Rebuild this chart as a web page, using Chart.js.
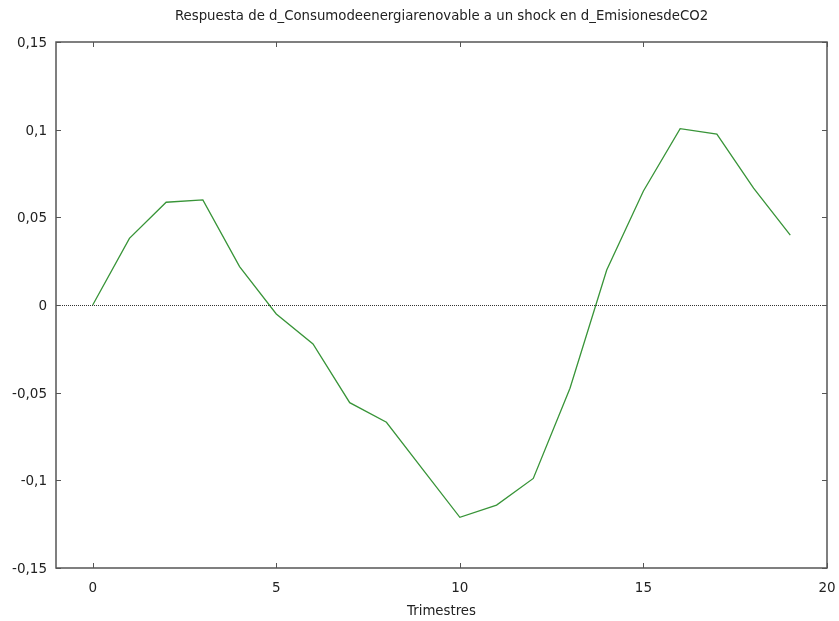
<!DOCTYPE html>
<html>
<head>
<meta charset="utf-8">
<script src="https://cdn.jsdelivr.net/npm/chart.js@4/dist/chart.umd.min.js"></script>
<style>
  html, body { margin: 0; padding: 0; background: #fff; }
  #wrap { width: 839px; height: 621px; }
</style>
</head>
<body>
<div id="wrap"><canvas id="myChart" width="839" height="621"></canvas></div>
<script>
const chartTitle = "Respuesta de d_Consumodeenergiarenovable a un shock en d_EmisionesdeCO2";
const periods = [0, 1, 2, 3, 4, 5, 6, 7, 8, 9, 10, 11, 12, 13, 14, 15, 16, 17, 18, 19];
const response = [0, 0.0380, 0.0586, 0.0599, 0.0219, -0.0051, -0.0222, -0.0557, -0.0669, -0.0940,
    -0.1211, -0.1141, -0.0989, -0.0475, 0.0200, 0.0650, 0.1006, 0.0975, 0.0666, 0.0399];
const xTicks = [0, 5, 10, 15, 20];
const yTicks = [-0.15, -0.1, -0.05, 0, 0.05, 0.1, 0.15];

const fmt = (v) => {
    const r = Math.round(v * 100) / 100;
    return String(r).replace(".", ",");
};

// frame, inward ticks on all four sides and the dotted zero line
const framePlugin = {
    id: "frame",
    afterDatasetsDraw(chart) {
        const { ctx, chartArea: a, scales } = chart;
        ctx.save();
        // zero line
        const y0 = scales.y.getPixelForValue(0);
        ctx.strokeStyle = "#333";
        ctx.lineWidth = 1;
        ctx.setLineDash([1, 1]);
        ctx.beginPath();
        ctx.moveTo(a.left, Math.round(y0) + 0.5);
        ctx.lineTo(a.right, Math.round(y0) + 0.5);
        ctx.stroke();
        ctx.setLineDash([]);

        ctx.strokeStyle = "#555";
        ctx.lineWidth = 1.5;
        ctx.strokeRect(a.left, a.top, a.right - a.left, a.bottom - a.top);

        ctx.lineWidth = 1;
        ctx.beginPath();
        xTicks.forEach((t) => {
            const x = Math.round(scales.x.getPixelForValue(t)) + 0.5;
            ctx.moveTo(x, a.bottom);
            ctx.lineTo(x, a.bottom - 5);
            ctx.moveTo(x, a.top);
            ctx.lineTo(x, a.top + 5);
        });
        yTicks.forEach((t) => {
            const y = Math.round(scales.y.getPixelForValue(t)) + 0.5;
            ctx.moveTo(a.left, y);
            ctx.lineTo(a.left + 5, y);
            ctx.moveTo(a.right, y);
            ctx.lineTo(a.right - 5, y);
        });
        ctx.stroke();
        ctx.restore();
    },
};

const ctx = document.getElementById("myChart");

new Chart(ctx, {
    type: "scatter",
    data: {
        datasets: [
            {
                data: periods.map((p, i) => ({ x: p, y: response[i] })),
                showLine: true,
                borderColor: "rgb(56, 148, 56)",
                borderWidth: 1.3,
                pointRadius: 0,
                tension: 0,
            },
        ],
    },
    options: {
        responsive: false,
        animation: false,
        layout: { padding: { left: 0, right: 12, top: 0, bottom: 0 } },
        plugins: {
            legend: { display: false },
            tooltip: { enabled: false },
        },
        scales: {
            // top axis only carries the title, centred over the plot area
            top: {
                type: "linear",
                position: "top",
                min: -1,
                max: 20,
                grid: { display: false, drawTicks: false },
                border: { display: false },
                ticks: { display: false },
                title: {
                    display: true,
                    text: chartTitle,
                    color: "#222",
                    font: { family: "DejaVu Sans", size: 13.3 },
                    padding: { top: 9, bottom: 0 },
                },
                afterFit: (s) => {
                    s.height = 42;
                    s.paddingLeft = 0;
                    s.paddingRight = 0;
                },
            },
            x: {
                type: "linear",
                min: -1,
                max: 20,
                grid: { display: false, drawTicks: false },
                border: { display: false },
                afterBuildTicks: (s) => { s.ticks = xTicks.map((v) => ({ value: v })); },
                ticks: {
                    color: "#222",
                    font: { family: "DejaVu Sans", size: 13.5 },
                    padding: 12,
                    maxRotation: 0,
                },
                title: {
                    display: true,
                    text: "Trimestres",
                    color: "#222",
                    font: { family: "DejaVu Sans", size: 13.3 },
                    padding: { top: 0, bottom: 1 },
                },
                afterFit: (s) => {
                    s.height = 53;
                    s.paddingLeft = 0;
                    s.paddingRight = 0;
                },
            },
            y: {
                min: -0.15,
                max: 0.15,
                grid: { display: false, drawTicks: false },
                border: { display: false },
                afterBuildTicks: (s) => { s.ticks = yTicks.map((v) => ({ value: v })); },
                ticks: {
                    color: "#222",
                    font: { family: "DejaVu Sans", size: 13.5 },
                    padding: 9,
                    labelOffset: 1.5,
                    callback: (v) => fmt(v),
                },
                afterFit: (s) => {
                    s.width = 56;
                    s.paddingTop = 0;
                    s.paddingBottom = 0;
                },
            },
        },
    },
    plugins: [framePlugin],
});
</script>
</body>
</html>
